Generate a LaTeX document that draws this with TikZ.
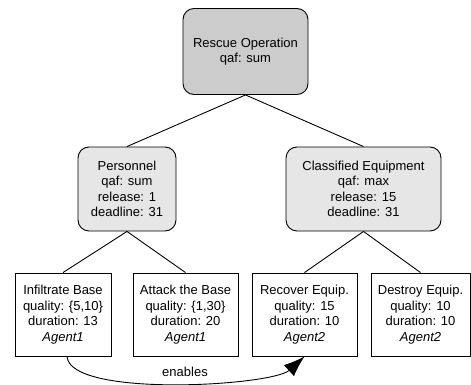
\documentclass[tikz,border=0pt]{standalone}
\usepackage{fontspec}
\setmainfont{Liberation Sans}
\usetikzlibrary{arrows.meta,calc}
\definecolor{topgray}{RGB}{204,204,204}
\definecolor{midgray}{RGB}{230,230,230}
\tikzset{
  base/.style={draw=black, line width=0.9pt, align=center, inner sep=0pt,
    font=\fontsize{13}{15.5}\selectfont},
  rootbox/.style={base, fill=topgray, rounded corners=11pt, minimum width=125pt, minimum height=86pt},
  midbox/.style={base, fill=midgray, rounded corners=11pt, minimum height=84pt},
  leafbox/.style={base, fill=white, minimum height=83pt},
  edge/.style={draw=black, line width=0.9pt},
  enab/.style={draw=black, line width=0.9pt, -{Latex[length=21pt,width=15pt]}},
}
\begin{document}
\begin{tikzpicture}[x=1pt,y=-1pt]
\useasboundingbox (0,0) rectangle (471,385);
\node[rootbox] (root) at (245.5,51.5) {Rescue Operation\\qaf: sum};
\node[midbox, minimum width=98pt] (pers) at (127,189) {Personnel\\qaf: sum\\release: 1\\deadline: 31};
\node[midbox, minimum width=155pt] (equip) at (363.5,189) {Classified Equipment\\qaf: max\\release: 15\\deadline: 31};
\node[leafbox, minimum width=96pt] (inf) at (63,314.5) {Infiltrate Base\\quality: \{5,10\}\\duration: 13\\\textit{Agent1}};
\node[leafbox, minimum width=105pt] (att) at (185.5,314.5) {Attack the Base\\quality: \{1,30\}\\duration: 20\\\textit{Agent1}};
\node[leafbox, minimum width=105pt] (rec) at (304.5,314.5) {Recover Equip.\\quality: 15\\duration: 10\\\textit{Agent2}};
\node[leafbox, minimum width=99pt] (des) at (420.5,314.5) {Destroy Equip.\\quality: 10\\duration: 10\\\textit{Agent2}};
\draw[edge] (root.south) -- (pers.north);
\draw[edge] (root.south) -- (equip.north);
\draw[edge] (pers.south) -- (inf.north);
\draw[edge] (pers.south) -- (att.north);
\draw[edge] (equip.south) -- (rec.north);
\draw[edge] (equip.south) -- (des.north);
\coordinate (s) at ($(inf.south)+(4,0)$);
\draw[enab] (s) .. controls (70,398) and (272,386) .. (rec.south);
\node[font=\fontsize{13}{15.5}\selectfont] (lab) at (185,372) {enables};
\end{tikzpicture}
\end{document}
